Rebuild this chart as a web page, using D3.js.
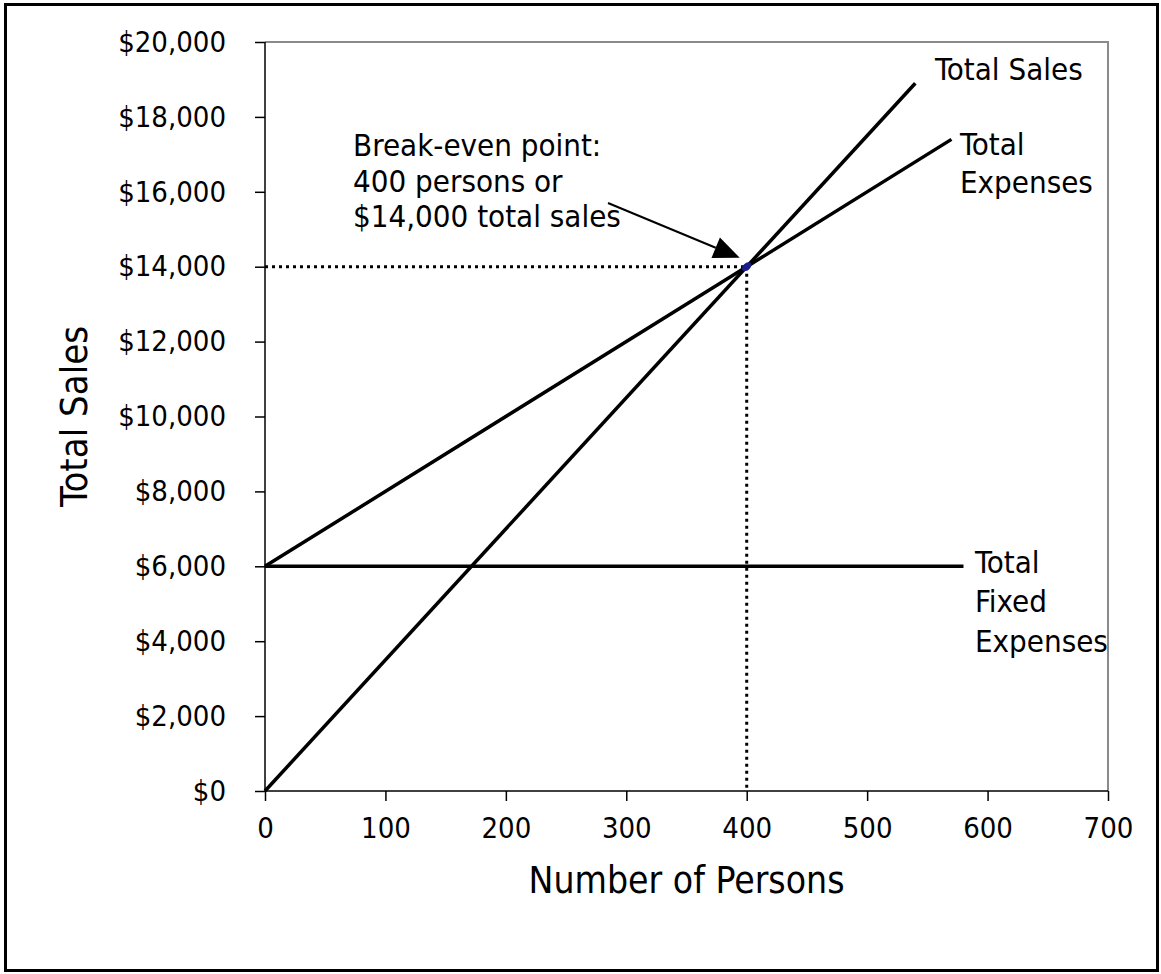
<!DOCTYPE html>
<html>
<head>
<meta charset="utf-8">
<script src="https://cdn.jsdelivr.net/npm/d3@7"></script>
<style>
  html, body { margin: 0; padding: 0; background: #fff; }
  svg { display: block; }
  text { font-family: 'DejaVu Sans Condensed', 'DejaVu Sans', sans-serif; font-stretch: condensed; fill: #000; }
</style>
</head>
<body>
<svg id="chart" width="1161" height="974"></svg>
<script>
// Break-even chart: persons on the x axis, dollars on the y axis
const personTicks = [0, 100, 200, 300, 400, 500, 600, 700];
const dollarTicks = [0, 2000, 4000, 6000, 8000, 10000, 12000, 14000, 16000, 18000, 20000];

const salesPersons = [0, 540];
const salesValues = [0, 18900];
const expensePersons = [0, 570];
const expenseValues = [6000, 17400];
const fixedPersons = [0, 580];
const fixedValues = [6000, 6000];

const breakEvenPersons = 400;
const breakEvenSales = 14000;

const svg = d3.select("#chart");
const W = 1161, H = 974;
const margin = { left: 265, right: 53, top: 42, bottom: 183 };

const x = d3.scaleLinear().domain([0, 700]).range([margin.left, W - margin.right]);
const y = d3.scaleLinear().domain([0, 20000]).range([H - margin.bottom, margin.top]);

// outer frame
svg.append("rect")
  .attr("x", 5.5).attr("y", 4.5).attr("width", W - 9).attr("height", H - 8)
  .attr("fill", "none").attr("stroke", "#000").attr("stroke-width", 3);

// plot area frame (top and right edges)
svg.append("path")
  .attr("d", `M${x(0)},${y(20000)}H${x(700)}V${y(0)}`)
  .attr("fill", "none").attr("stroke", "#8a8a8a").attr("stroke-width", 2);

// axes
const yAxis = d3.axisLeft(y).tickValues(dollarTicks).tickSize(10).tickPadding(29)
  .tickFormat(d3.format("$,"));
const xAxis = d3.axisBottom(x).tickValues(personTicks).tickSize(10).tickPadding(16)
  .tickFormat(d3.format("d"));

const gy = svg.append("g").attr("transform", `translate(${x(0)},0)`).call(yAxis);
const gx = svg.append("g").attr("transform", `translate(0,${y(0)})`).call(xAxis);
[gx, gy].forEach(g => {
  g.select(".domain").attr("stroke", "#000").attr("stroke-width", 1.5);
  g.selectAll(".tick line").attr("stroke", "#000").attr("stroke-width", 1.5);
  g.selectAll("text").attr("font-size", 29).attr("fill", "#000")
    .style("font-family", "'DejaVu Sans Condensed', 'DejaVu Sans', sans-serif");
});
gx.select(".domain").attr("d", `M${x(0)},0H${x(700)}`);
gy.select(".domain").attr("d", `M0,${y(0)}V${y(20000)}`);

// axis titles
svg.append("text")
  .attr("x", (x(0) + x(700)) / 2).attr("y", 893)
  .attr("text-anchor", "middle").attr("font-size", 37)
  .text("Number of Persons");
svg.append("text")
  .attr("transform", `translate(87,${(y(0) + y(20000)) / 2}) rotate(-90)`)
  .attr("text-anchor", "middle").attr("font-size", 38)
  .text("Total Sales");

// guide lines to the break-even point
svg.append("path")
  .attr("d", `M${x(0)},${y(breakEvenSales)}H${x(breakEvenPersons)}`)
  .attr("stroke", "#000").attr("stroke-width", 3).attr("stroke-dasharray", "3,4")
  .attr("fill", "none");
svg.append("path")
  .attr("d", `M${x(breakEvenPersons)},${y(breakEvenSales)}V${y(0)}`)
  .attr("stroke", "#000").attr("stroke-width", 3).attr("stroke-dasharray", "3,4")
  .attr("fill", "none");

// series lines
const line = d3.line().x(d => x(d[0])).y(d => y(d[1]));
const series = [
  d3.zip(salesPersons, salesValues),
  d3.zip(expensePersons, expenseValues),
  d3.zip(fixedPersons, fixedValues)
];
series.forEach(pts => {
  svg.append("path").datum(pts).attr("d", line)
    .attr("fill", "none").attr("stroke", "#000").attr("stroke-width", 3.5);
});

// break-even marker
svg.append("ellipse")
  .attr("cx", x(breakEvenPersons)).attr("cy", y(breakEvenSales))
  .attr("rx", 5.5).attr("ry", 3.5)
  .attr("transform", `rotate(-40,${x(breakEvenPersons)},${y(breakEvenSales)})`)
  .attr("fill", "#1c1c8a");

// series labels
function multiline(xp, baselines, lines) {
  const t = svg.append("text").attr("font-size", 31);
  lines.forEach((s, i) => t.append("tspan").attr("x", xp).attr("y", baselines[i]).text(s));
}
multiline(935, [80], ["Total Sales"]);
multiline(960, [155, 193], ["Total", "Expenses"]);
multiline(975, [573, 612, 652], ["Total", "Fixed", "Expenses"]);
multiline(353, [156, 192, 227], ["Break-even point:", "400 persons or", "$14,000 total sales"]);

// arrow from the note to the break-even point
const ax0 = 608, ay0 = 203;
const tipX = x(breakEvenPersons) - 7, tipY = y(breakEvenSales) - 9;
const ang = Math.atan2(tipY - ay0, tipX - ax0);
const headLen = 26, headHalf = 11;
const bx = tipX - headLen * Math.cos(ang), by = tipY - headLen * Math.sin(ang);
svg.append("line")
  .attr("x1", ax0).attr("y1", ay0).attr("x2", bx).attr("y2", by)
  .attr("stroke", "#000").attr("stroke-width", 2);
svg.append("path")
  .attr("d", `M${tipX},${tipY}L${bx + headHalf * Math.sin(ang)},${by - headHalf * Math.cos(ang)}L${bx - headHalf * Math.sin(ang)},${by + headHalf * Math.cos(ang)}Z`)
  .attr("fill", "#000");
</script>
</body>
</html>
